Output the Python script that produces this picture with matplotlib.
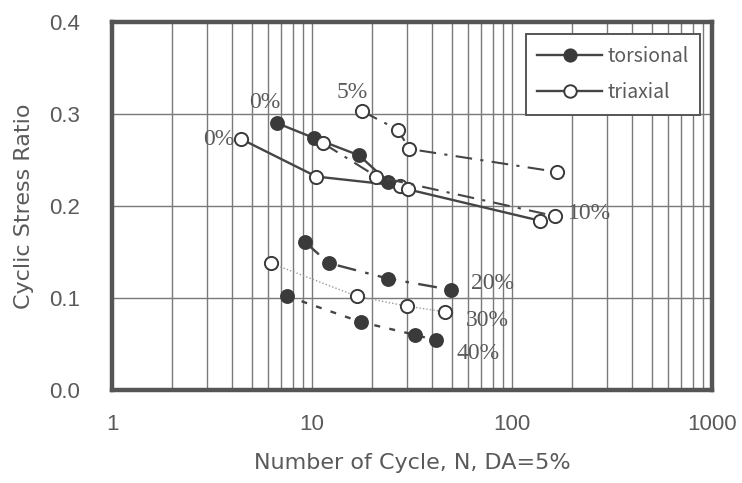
import matplotlib
matplotlib.use("Agg")
import matplotlib.pyplot as plt
from matplotlib.lines import Line2D

# Torsional shear tests (filled markers)
tor_0_n = [6.7, 10.2, 17.2, 24.1]
tor_0_csr = [0.290, 0.274, 0.255, 0.226]
tor_20_n = [9.2, 12.1, 24.1, 49.3]
tor_20_csr = [0.161, 0.138, 0.121, 0.109]
tor_40_n = [7.5, 17.5, 32.7, 41.7]
tor_40_csr = [0.102, 0.074, 0.060, 0.054]

# Triaxial tests (open markers)
tri_0_n = [4.4, 10.5, 27.5, 30.3, 138]
tri_0_csr = [0.273, 0.232, 0.222, 0.218, 0.184]
tri_5_n = [17.8, 26.8, 30.7, 168]
tri_5_csr = [0.303, 0.283, 0.262, 0.237]
tri_10_n = [11.4, 21.0, 164]
tri_10_csr = [0.268, 0.232, 0.189]
tri_30_n = [6.2, 16.7, 30.0, 46.2]
tri_30_csr = [0.138, 0.102, 0.091, 0.085]

fines_labels = ["0%", "0%", "5%", "10%", "20%", "30%", "40%"]
label_n = [5.8, 3.4, 15.8, 245, 80, 75, 68]
label_csr = [0.312, 0.272, 0.323, 0.192, 0.116, 0.076, 0.040]

x_ticks = [1, 10, 100, 1000]
y_ticks = [0.0, 0.1, 0.2, 0.3, 0.4]

ink = "#3a3a3a"
line_c = "#454545"
grid_c = "#7a7a7a"
text_c = "#5a5a5a"

fig = plt.figure(figsize=(7.42, 4.83), dpi=100)
ax = fig.add_axes([0.151, 0.1925, 0.8086, 0.762])
ax.set_xscale("log")
ax.set_xlim(1, 1000)
ax.set_ylim(0, 0.4)

ms = 9.5
filled = dict(marker="o", markersize=ms, markerfacecolor=ink, markeredgecolor=ink,
              markeredgewidth=1.2, color=line_c, zorder=3)
hollow = dict(marker="o", markersize=ms, markerfacecolor="white", markeredgecolor=ink,
              markeredgewidth=1.4, color=line_c, zorder=3)

ax.plot(tri_0_n, tri_0_csr, linestyle="-", linewidth=1.7, **hollow)
ax.plot(tor_0_n, tor_0_csr, linestyle="-", linewidth=1.7, **filled)
ax.plot(tri_10_n, tri_10_csr, linestyle=(0, (8, 4, 1.5, 4)), linewidth=1.5, **hollow)
ax.plot(tri_5_n, tri_5_csr, linestyle=(0, (8, 4, 1.5, 4)), linewidth=1.5, **hollow)
ax.plot(tor_20_n, tor_20_csr, linestyle=(0, (8, 4, 1.5, 4)), linewidth=1.7, **filled)
ax.plot(tri_30_n, tri_30_csr, linestyle=(0, (1, 1.5)), linewidth=1.0,
        **{**hollow, "color": "#9a9a9a"})
ax.plot(tor_40_n, tor_40_csr, linestyle=(0, (2.5, 4)), linewidth=1.7, **filled)

for txt, n, c in zip(fines_labels, label_n, label_csr):
    ax.text(n, c, txt, ha="center", va="center", fontsize=17, color=text_c,
            family="Liberation Serif", zorder=4)

# grid on every decade subdivision
ax.set_xticks(x_ticks)
ax.set_xticklabels([str(v) for v in x_ticks])
ax.set_yticks(y_ticks)
ax.set_yticklabels([f"{v:.1f}" for v in y_ticks])
ax.grid(True, which="both", axis="x", color=grid_c, linewidth=1.0)
ax.grid(True, which="major", axis="y", color=grid_c, linewidth=1.0)
ax.tick_params(which="both", length=0, labelsize=16, labelcolor=text_c)
ax.tick_params(axis="y", pad=23)
ax.tick_params(axis="x", pad=17)
for lab in ax.get_xticklabels() + ax.get_yticklabels():
    lab.set_family("Liberation Sans")
for s in ax.spines.values():
    s.set_linewidth(3.2)
    s.set_color("#555555")

ax.set_xlabel("Number of Cycle, N, DA=5%", fontsize=16, color=text_c,
              family="DejaVu Sans", labelpad=13)
ax.set_ylabel("Cyclic Stress Ratio", fontsize=16, color=text_c,
              family="DejaVu Sans", labelpad=11)

handles = [
    Line2D([], [], linestyle="-", linewidth=1.7, **{**filled, "markersize": 9}),
    Line2D([], [], linestyle="-", linewidth=1.7, **{**hollow, "markersize": 9}),
]
leg = ax.legend(handles, ["torsional", "triaxial"], loc="upper right",
                bbox_to_anchor=(0.987, 0.978), frameon=True,
                fancybox=False, edgecolor="#555555", framealpha=1,
                handlelength=3.3, handletextpad=0.3, borderpad=0.6,
                labelspacing=0.8, borderaxespad=0.2,
                prop={"family": "Noto Sans CJK JP", "size": 14})
leg.get_frame().set_linewidth(1.4)
for t in leg.get_texts():
    t.set_color(text_c)

fig.savefig("out.png", dpi=100)
